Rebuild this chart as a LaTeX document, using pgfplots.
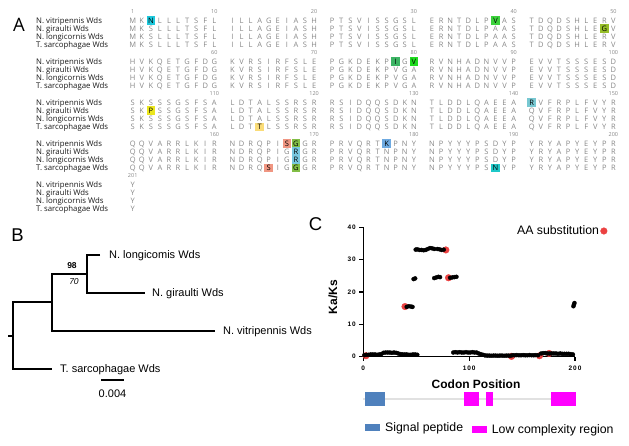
\documentclass[border=0pt]{standalone}
\usepackage{pgfplots}
\pgfplotsset{compat=1.18}
\usepackage{fontspec}
\setmainfont{Liberation Sans}
\newfontfamily\os{Open Sans}
\newfontfamily\tickf[LetterSpace=15]{Liberation Sans}

\definecolor{seqgray}{RGB}{135,135,135}
\definecolor{hcyan}{RGB}{30,200,220}
\definecolor{hgreen}{RGB}{60,210,60}
\definecolor{hgreenb}{RGB}{30,220,30}
\definecolor{holive}{RGB}{150,190,40}
\definecolor{hmgreen}{RGB}{60,180,100}
\definecolor{hyellow}{RGB}{235,230,30}
\definecolor{hlyellow}{RGB}{250,220,120}
\definecolor{hteal}{RGB}{120,200,210}
\definecolor{hsalmon}{RGB}{240,150,130}
\definecolor{hggreen}{RGB}{130,190,70}
\definecolor{hlblue}{RGB}{120,200,225}
\definecolor{hblue}{RGB}{110,170,225}
\definecolor{hcyanb}{RGB}{30,200,200}
\definecolor{sigblue}{RGB}{79,129,189}
\definecolor{lcmag}{RGB}{255,0,255}
\definecolor{aared}{RGB}{235,65,65}
\definecolor{trackgray}{RGB}{225,225,225}

\newcount\seqidx
\def\bx{132.7}
\def\pitch{9.07}
\tikzset{seql/.style={font=\os\fontsize{7.5}{8}\selectfont, text=seqgray, inner sep=0pt, anchor=base},
         numl/.style={font=\os\fontsize{5.5}{6}\selectfont, text=seqgray, inner sep=0pt},
         namel/.style={font=\os\fontsize{7.8}{9}\selectfont, text=black!90, inner sep=0pt, anchor=base west}}
\newcommand\seqrow[2]{%
  \pgfmathsetmacro\syb{-(#1+2.7)}%
  \global\seqidx=0 \seqloop#2\relax}
\def\seqloop#1{%
  \ifx#1\relax\else
    \ifx#1*\else
      \pgfmathsetmacro\sxx{\bx+(\seqidx+int(\seqidx/10))*\pitch}%
      \node[seql] at (\sxx pt,\syb pt) {#1};%
    \fi
    \global\advance\seqidx by 1
    \expandafter\seqloop
  \fi}
\newcommand\hl[4]{%
  \pgfmathsetmacro\hx{\bx+(#1+int(#1/10))*\pitch}%
  \pgfmathsetmacro\xa{\hx-4.3}\pgfmathsetmacro\xb{\hx+4.3}%
  \pgfmathsetmacro\ya{-(#2-4.3)}\pgfmathsetmacro\yb{-(#2+4.1)}%
  \pgfmathsetmacro\yc{-(#2+2.7)}%
  \fill[#3] (\xa pt,\ya pt) rectangle (\xb pt,\yb pt);%
  \node[seql, text=black] at (\hx pt,\yc pt) {#4};}
\newcommand\numl[3]{%
  \pgfmathsetmacro\nx{\bx+(#1+int(#1/10))*\pitch}%
  \node[numl] at (\nx pt,-#2pt) {#3};}
\newcommand\names[1]{%
  \pgfmathsetmacro\na{-(#1+2.7)}\pgfmathsetmacro\nb{-(#1+8.2+2.7)}%
  \pgfmathsetmacro\nc{-(#1+16.4+2.7)}\pgfmathsetmacro\nd{-(#1+24.6+2.7)}%
  \node[namel] at (36pt,\na pt) {N. vitripennis Wds};
  \node[namel] at (36pt,\nb pt) {N. giraulti Wds};
  \node[namel] at (36pt,\nc pt) {N. longicornis Wds};
  \node[namel] at (36pt,\nd pt) {T. sarcophagae Wds};}

\pgfplotstableread{
x y
1 0.5
3 0.6
5 0.6
7 0.7
9 0.7
11 0.7
13 0.6
15 0.7
17 0.8
19 1.2
21 1.3
23 1.3
25 1.3
27 1.2
29 1.3
31 1.2
33 1.0
35 0.8
37 0.7
39 0.7
41 0.7
43 0.6
45 0.6
47 0.7
49 0.7
51 0.6
41 15.4
43 15.6
45 15.5
46.5 15.4
47.5 24.0
49 24.2
49.5 33.1
51 33.2
53 33.0
55 33.0
57 32.9
59 33.0
61 33.3
63 33.6
65 33.5
67 33.3
70 33.3
72 33.2
74 33.0
76 33.1
67 24.3
69 24.5
71 24.7
72.5 24.6
82 24.4
84 24.5
86 24.6
88 24.7
85 1.3
87 1.4
89 1.3
91 1.4
93 1.3
95 1.3
97 1.4
99 1.3
101 1.3
103 1.4
105 1.3
107 1.3
109 1.0
111 0.8
113 0.6
115 0.4
117 0.35
119 0.35
121 0.3
123 0.35
125 0.35
127 0.3
129 0.35
131 0.35
133 0.3
135 0.35
137 0.35
139 0.3
141 0.45
143 0.45
145 0.5
147 0.45
149 0.45
151 0.5
153 0.45
155 0.45
157 0.5
159 0.45
161 0.45
163 0.5
165 0.45
168 1.0
170 1.1
172 1.1
174 1.0
176 1.0
178 1.0
180 1.0
182 1.0
184 0.9
186 1.0
188 0.9
190 0.9
192 0.9
194 0.9
196 0.8
198 0.7
198.5 15.6
199 16.1
199.5 16.6
}\blackpts

\pgfplotstableread{
x y
2.5 0.3
39.4 15.5
78 33.0
80.5 24.4
140 0.1
166.5 0.3
175.5 1.0
}\redpts

\begin{document}
\begin{tikzpicture}
\useasboundingbox (0pt,0pt) rectangle (629pt,-445pt);

% ---------------- Panel A ----------------
\node[font=\os\fontsize{18.5}{20}\selectfont, inner sep=0pt] at (19pt,-25pt) {A};

% block 1
\names{20.5}
\numl{0}{11.5}{1}\numl{9}{11.5}{10}\numl{19}{11.5}{20}\numl{29}{11.5}{30}\numl{39}{11.5}{40}\numl{49}{11.5}{50}
\seqrow{20.5}{MK*LLLTSFL ILLAGEIASH PTSVISSGSL ERNTDLP*AS TDQDSHLERV}
\seqrow{28.7}{MKSLLLTSFL ILLAGEIASH PTSVISSGSL ERNTDLPAAS TDQDSHLE*V}
\seqrow{36.9}{MKSLLLTSFL ILLAGEIASH PTSVISSGSL ERNTDLPAAS TDQDSHLERV}
\seqrow{45.1}{MKSLLLTSFL ILLAGEIASH PTSVISSGSL ERNTDLPAAS TDQDSHLERV}
% block 2
\names{61.5}
\numl{9}{52.5}{60}\numl{19}{52.5}{70}\numl{29}{52.5}{80}\numl{39}{52.5}{90}\numl{49}{52.5}{100}
\seqrow{61.5}{HVKQETGFDG KVRSIRFSLE PGKDEKP*G* RVNHADNVVP EVVTSSSESD}
\seqrow{69.7}{HVKQETGFDG KVRSIRFSLE PGKDEKPVGA RVNHADNVVP EVVTSSSESD}
\seqrow{77.9}{HVKQETGFDG KVRSIRFSLE PGKDEKPVGA RVNHADNVVP EVVTSSSESD}
\seqrow{86.1}{HVKQETGFDG KVRSIRFSLE PGKDEKPVGA RVNHADNVVP EVVTSSSESD}
% block 3
\names{102.5}
\numl{9}{93.5}{110}\numl{19}{93.5}{120}\numl{29}{93.5}{130}\numl{39}{93.5}{140}\numl{49}{93.5}{150}
\seqrow{102.5}{SKSSSGSFSA LDTALSSRSR RSIDQQSDKN TLDDLQAEEA *VFRPLFVYR}
\seqrow{110.7}{SK*SSGSFSA LDTALSSRSR RSIDQQSDKN TLDDLQAEEA QVFRPLFVYR}
\seqrow{118.9}{SKSSSGSFSA LDTALSSRSR RSIDQQSDKN TLDDLQAEEA QVFRPLFVYR}
\seqrow{127.1}{SKSSSGSFSA LDT*LSSRSR RSIDQQSDKN TLDDLQAEEA QVFRPLFVYR}
% block 4
\names{143.5}
\numl{9}{134.5}{160}\numl{19}{134.5}{170}\numl{29}{134.5}{180}\numl{39}{134.5}{190}\numl{49}{134.5}{200}
\seqrow{143.5}{QQVARRLKIR NDRQPI**GR PRVQRT*PNY NPYYYPSDYP YRYAPYEYPR}
\seqrow{151.7}{QQVARRLKIR NDRQPIG*GR PRVQRTNPNY NPYYYPSDYP YRYAPYEYPR}
\seqrow{159.9}{QQVARRLKIR NDRQPIG*GR PRVQRTNPNY NPYYYPSDYP YRYAPYEYPR}
\seqrow{168.1}{QQVARRLKIR NDRQ*IG*GR PRVQRTNPNY NPYYYPS*YP YRYAPYEYPR}
% block 5
\names{184.5}
\numl{0}{175.5}{201}
\seqrow{184.5}{Y}
\seqrow{192.7}{Y}
\seqrow{200.9}{Y}
\seqrow{209.1}{Y}

% highlights
\hl{2}{20.5}{hcyan}{N}
\hl{37}{20.5}{hgreen}{V}
\hl{48}{28.7}{holive}{G}
\hl{27}{61.5}{hmgreen}{I}
\hl{29}{61.5}{hgreenb}{V}
\hl{2}{110.7}{hyellow}{P}
\hl{13}{127.1}{hlyellow}{T}
\hl{40}{102.5}{hteal}{R}
\hl{16}{143.5}{hsalmon}{S}
\hl{17}{143.5}{hggreen}{G}
\hl{17}{151.7}{hlblue}{R}
\hl{17}{159.9}{hlblue}{R}
\hl{14}{168.1}{hsalmon}{S}
\hl{17}{168.1}{hggreen}{G}
\hl{26}{143.5}{hblue}{K}
\hl{37}{168.1}{hcyanb}{N}

% ---------------- Panel B ----------------
\node[font=\fontsize{18.5}{20}\selectfont, inner sep=0pt] at (17.5pt,-235pt) {B};
\begin{axis}[at={(0pt,0pt)}, anchor=north west, scale only axis,
  width=629pt, height=445pt, xmin=0, xmax=629, ymin=0, ymax=445,
  y dir=reverse, hide axis, clip=false]
\addplot[black, line width=1.1pt, mark=none] coordinates {(8,336) (13,336)};
\addplot[black, line width=1.1pt, mark=none] coordinates {(52,302) (13,302) (13,369) (52,369)};
\addplot[black, line width=1.1pt, mark=none] coordinates {(87,274) (52,274) (52,331) (215,331)};
\addplot[black, line width=1.1pt, mark=none] coordinates {(100,255) (87,255) (87,293) (145,293)};
\addplot[black, line width=1.1pt, mark=none] coordinates {(101,380) (124,380)};
\end{axis}
\begin{scope}[every node/.style={font=\fontsize{11}{13}\selectfont, inner sep=0pt, anchor=west}]
\node at (109pt,-255.5pt) {N. longicomis Wds};
\node at (152pt,-293.5pt) {N. giraulti Wds};
\node at (223pt,-331.5pt) {N. vitripennis Wds};
\node at (60pt,-369.5pt) {T. sarcophagae Wds};
\end{scope}
\node[font=\bfseries\fontsize{8.5}{10}\selectfont, inner sep=0pt] at (72pt,-266pt) {98};
\node[font=\itshape\fontsize{8.5}{10}\selectfont, inner sep=0pt] at (74pt,-282pt) {70};
\node[font=\fontsize{11}{13}\selectfont, inner sep=0pt] at (112.5pt,-393.5pt) {0.004};

% ---------------- Panel C ----------------
\node[font=\fontsize{18.5}{20}\selectfont, inner sep=0pt] at (315.5pt,-224pt) {C};
\begin{axis}[at={(363.3pt,-356.7pt)}, anchor=south west, scale only axis,
  width=211.7pt, height=129.4pt,
  xmin=0, xmax=200, ymin=0, ymax=40,
  axis x line*=bottom, axis y line*=left,
  axis line style={line width=1.2pt, -},
  xtick={0,100,200}, ytick={0,10,20,30,40},
  tick align=outside, major tick length=4pt,
  tick style={line width=1.1pt, black},
  ticklabel style={font=\tickf\bfseries\fontsize{6.5}{7}\selectfont},
  xticklabel style={yshift=-2pt},
  /pgf/number format/assume math mode=true,
  clip=false,
  legend plot pos=right,
  legend style={at={(axis cs:230.6,38.86)}, anchor=east, draw=none, fill=none,
    inner sep=0pt, font=\fontsize{12.3}{14}\selectfont,
    nodes={inner sep=1.5pt}},
  legend image code/.code={\draw[mark repeat=2,mark phase=2,#1] plot coordinates {(0pt,0pt) (3.4pt,0pt) (6.8pt,0pt)};},
]
\addplot[only marks, mark=*, mark size=3.3pt, color=aared] table[x=x,y=y] {\redpts};
\addlegendentry{AA substitution}
\addplot[only marks, mark=*, mark size=2pt, color=black, forget plot] table[x=x,y=y] {\blackpts};
% domain track
\addplot[trackgray, line width=2pt, mark=none, forget plot] coordinates {(0,-13.17) (200,-13.17)};
\addplot[fill=sigblue, draw=none, mark=none, forget plot] coordinates {(1.5,-10.82) (20.5,-10.82) (20.5,-15.15) (1.5,-15.15)} -- cycle;
\addplot[fill=lcmag, draw=none, mark=none, forget plot] coordinates {(95.2,-10.82) (109.6,-10.82) (109.6,-15.15) (95.2,-15.15)} -- cycle;
\addplot[fill=lcmag, draw=none, mark=none, forget plot] coordinates {(116,-10.82) (122.3,-10.82) (122.3,-15.15) (116,-15.15)} -- cycle;
\addplot[fill=lcmag, draw=none, mark=none, forget plot] coordinates {(177.5,-10.82) (200.8,-10.82) (200.8,-15.15) (177.5,-15.15)} -- cycle;
\end{axis}
\node[font=\bfseries\fontsize{12}{14}\selectfont, rotate=90, inner sep=0pt] at (333pt,-297pt) {Ka/Ks};
\node[font=\bfseries\fontsize{12}{14}\selectfont, inner sep=0pt] at (476pt,-384pt) {Codon Position};
% legend for domain track
\fill[sigblue] (365pt,-424.3pt) rectangle (380pt,-431pt);
\node[font=\fontsize{12.3}{14}\selectfont, inner sep=0pt, anchor=base west] at (385pt,-431.5pt) {Signal peptide};
\fill[lcmag] (472pt,-425.7pt) rectangle (487pt,-432.7pt);
\node[font=\fontsize{12.3}{14}\selectfont, inner sep=0pt, anchor=base west] at (491.7pt,-433.5pt) {Low complexity region};
\end{tikzpicture}
\end{document}
